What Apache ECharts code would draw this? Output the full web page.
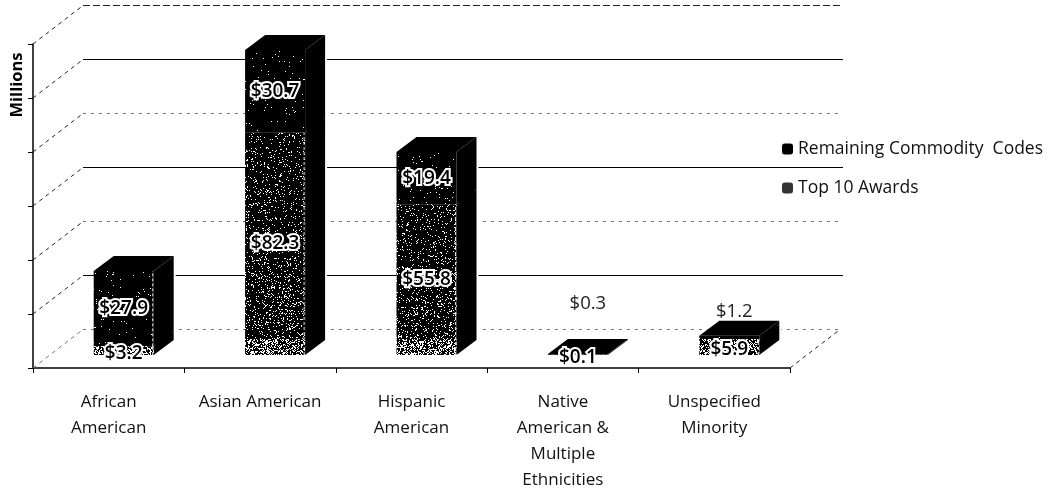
<!DOCTYPE html>
<html>
<head>
<meta charset="utf-8">
<script src="https://cdn.jsdelivr.net/npm/echarts@6/dist/echarts.min.js"></script>
<style>
    html, body {margin: 0; padding: 0; background: #fff;}
    #chart {width: 1053px; height: 493px;}
</style>
</head>
<body>
<div id="chart"></div>
<script>
const categories = ['African\nAmerican', 'Asian American', 'Hispanic\nAmerican', 'Native\nAmerican &\nMultiple\nEthnicities', 'Unspecified\nMinority']
const top10Awards = [3.2, 82.3, 55.8, 0.1, 5.9]
const remainingCodes = [27.9, 30.7, 19.4, 0.3, 1.2]
const axisTicks = [0, 20, 40, 60, 80, 100, 120]

const FONT = '"Open Sans", sans-serif'
const WALL_DX = 50
const WALL_DY = 39
const BAR_SHIFT = 15
const BAR_FLOOR = 13
const BAR_W = 60
const BAR_DX = 20
const BAR_DY = 15

// scanned look: black tile with white specks, hashed so it stays the same on every run
const speckle = (rate) => {
    const tile = document.createElement('canvas')
    tile.width = 211
    tile.height = 493
    const ctx = tile.getContext('2d')
    ctx.fillStyle = '#000'
    ctx.fillRect(0, 0, 211, 493)
    ctx.fillStyle = '#fff'
    let seed = 12345
    for (let y = 0; y < 493; y++) {
        for (let x = 0; x < 211; x++) {
            seed = (seed * 1103515245 + 12345) % 2147483648
            if (seed / 2147483648 < rate(y)) {
                ctx.fillRect(x, y, 1, 1)
            }
        }
    }
    return tile
}
const denseFill = {image: speckle((y) => (y > 338 ? 0.38 : y > 270 ? 0.13 : 0.09)), repeat: 'repeat'}
const sparseFill = {image: speckle(() => 0.015), repeat: 'repeat'}

const wallItem = (params, api) => {
    const i = params.dataIndex
    const v = api.value(1)
    const band = api.size([1, 0])[0]
    const p0 = api.coord([0, v])
    const p1 = api.coord([4, v])
    const left = p0[0] - band / 2
    const right = p1[0] + band / 2
    const y = p0[1]
    const backY = Math.round(y - WALL_DY) + 0.5
    const solid = i % 2 === 1
    const faint = i === 0 || i === 2 || i === 4
    const children = [
        {
            type: 'line',
            shape: {x1: left, y1: y, x2: left + WALL_DX, y2: backY},
            style: {stroke: i === 0 ? '#777' : '#222', lineWidth: 1, lineDash: [4, 4]},
        },
        {
            type: 'line',
            shape: {x1: left + WALL_DX, y1: backY, x2: right + WALL_DX + 3, y2: backY},
            style: solid
                ? {stroke: '#000', lineWidth: 1}
                : {stroke: faint ? '#777' : '#222', lineWidth: 1, lineDash: faint ? [3, 5] : [7, 3]},
        },
    ]
    if (i === 0) {
        children.push({
            type: 'line',
            shape: {x1: right, y1: y, x2: right + WALL_DX, y2: backY},
            style: {stroke: '#222', lineWidth: 1, lineDash: [4, 4]},
        })
    }
    return {type: 'group', children}
}

const barItem = (isTop) => (params, api) => {
    const i = api.value(0)
    const base = api.value(1)
    const val = api.value(2)
    const a = api.coord([i, base])
    const b = api.coord([i, base + val])
    const floor = api.coord([i, 0])[1] - BAR_FLOOR
    const x = a[0] + BAR_SHIFT - BAR_W / 2
    const y0 = a[1] - BAR_FLOOR
    const y1 = b[1] - BAR_FLOOR
    const r = x + BAR_W
    const children = []
    if (isTop) {
        // white edge keeps the wall lines a little away from the bar, as in the scan
        children.push({
            type: 'polygon',
            shape: {points: [[r, floor], [r + BAR_DX, floor - BAR_DY], [r + BAR_DX, y1 - BAR_DY], [r, y1]]},
            style: {fill: '#000', stroke: '#fff', lineWidth: 4},
        })
    }
    children.push(
        {
            type: 'polygon',
            shape: {points: [[r, y0], [r + BAR_DX, y0 - BAR_DY], [r + BAR_DX, y1 - BAR_DY], [r, y1]]},
            style: {fill: '#000'},
        },
        {
            type: 'rect',
            shape: {x, y: y1, width: BAR_W, height: y0 - y1},
            style: {fill: isTop ? sparseFill : denseFill},
        }
    )
    if (!isTop || i === 0) {
        children.push({
            type: 'line',
            shape: {x1: r - 1, y1: y0, x2: r - 1, y2: y1},
            style: {stroke: '#ddd', lineWidth: 1, lineDash: [3, 2]},
        })
    }
    if (isTop) {
        children.push({
            type: 'polygon',
            shape: {points: [[x, y1], [x + BAR_DX, y1 - BAR_DY], [r + BAR_DX, y1 - BAR_DY], [r, y1]]},
            style: {fill: '#000'},
        })
    }
    return {type: 'group', children}
}

const labelItem = (params, api) => {
    const i = api.value(0)
    const base = api.value(1)
    const val = api.value(2)
    const isTop = api.value(3) === 1
    const a = api.coord([i, base])
    const b = api.coord([i, base + val])
    const cx = a[0] + BAR_SHIFT
    const y0 = a[1] - BAR_FLOOR
    const y1 = b[1] - BAR_FLOOR
    const plain = isTop && i >= 3
    let x = cx
    let y = (y0 + y1) / 2
    if (plain) {
        // these two sat away from their bars in the original
        x += i === 3 ? 10 : 5
        y = i === 3 ? y1 - 50 : y1 - 24
    } else if (y0 - y1 < 30) {
        y += 3
    }
    return {
        type: 'text',
        style: {
            x,
            y,
            text: '$' + val.toFixed(1),
            font: (plain ? 'normal 18.5px ' : '600 19px ') + FONT,
            fill: plain ? '#222' : '#000',
            stroke: plain ? null : '#fff',
            lineWidth: plain ? 0 : 4,
            align: 'center',
            verticalAlign: 'middle',
        },
    }
}

const chart = echarts.init(document.getElementById('chart'))
chart.setOption({
    animation: false,
    backgroundColor: '#fff',
    grid: {left: 33, right: 263, top: 44, bottom: 125},
    legend: {
        orient: 'vertical',
        left: 777,
        top: 132,
        itemGap: 15,
        itemWidth: 11,
        itemHeight: 11,
        data: ['Remaining Commodity  Codes', 'Top 10 Awards'],
        textStyle: {color: '#111', fontFamily: FONT, fontSize: 17.5, lineHeight: 24},
    },
    graphic: [
        {
            type: 'text',
            x: 17,
            y: 85,
            rotation: Math.PI / 2,
            style: {
                text: 'Millions',
                font: 'bold 16.5px ' + FONT,
                fill: '#000',
                align: 'center',
                verticalAlign: 'middle',
            },
        },
    ],
    xAxis: {
        type: 'category',
        data: categories,
        axisLine: {lineStyle: {color: '#000', width: 1.5}},
        axisTick: {show: true, length: 5, lineStyle: {color: '#000'}},
        axisLabel: {
            interval: 0,
            margin: 21,
            lineHeight: 26,
            verticalAlign: 'top',
            color: '#111',
            fontFamily: FONT,
            fontSize: 17,
        },
    },
    yAxis: {
        type: 'value',
        min: 0,
        max: 120,
        interval: 20,
        axisLine: {show: true, lineStyle: {color: '#000', width: 1.5}},
        axisTick: {show: true, length: 5, lineStyle: {color: '#000'}},
        axisLabel: {show: false},
        splitLine: {show: false},
    },
    series: [
        {
            type: 'custom',
            name: 'walls',
            z: 1,
            silent: true,
            renderItem: wallItem,
            encode: {y: 1},
            data: axisTicks.map((v, i) => [i, v]),
        },
        {
            type: 'custom',
            name: 'Remaining Commodity  Codes',
            z: 2,
            renderItem: barItem(true),
            itemStyle: {color: '#000'},
            encode: {x: 0, y: 2},
            data: remainingCodes.map((v, i) => [i, top10Awards[i], v]),
        },
        {
            type: 'custom',
            name: 'Top 10 Awards',
            z: 3,
            renderItem: barItem(false),
            itemStyle: {color: '#333'},
            encode: {x: 0, y: 2},
            data: top10Awards.map((v, i) => [i, 0, v]),
        },
        {
            type: 'custom',
            name: 'labels',
            z: 4,
            silent: true,
            renderItem: labelItem,
            encode: {x: 0, y: 2},
            data: [
                ...top10Awards.map((v, i) => [i, 0, v, 0]),
                ...remainingCodes.map((v, i) => [i, top10Awards[i], v, 1]),
            ],
        },
    ],
})
</script>
</body>
</html>
